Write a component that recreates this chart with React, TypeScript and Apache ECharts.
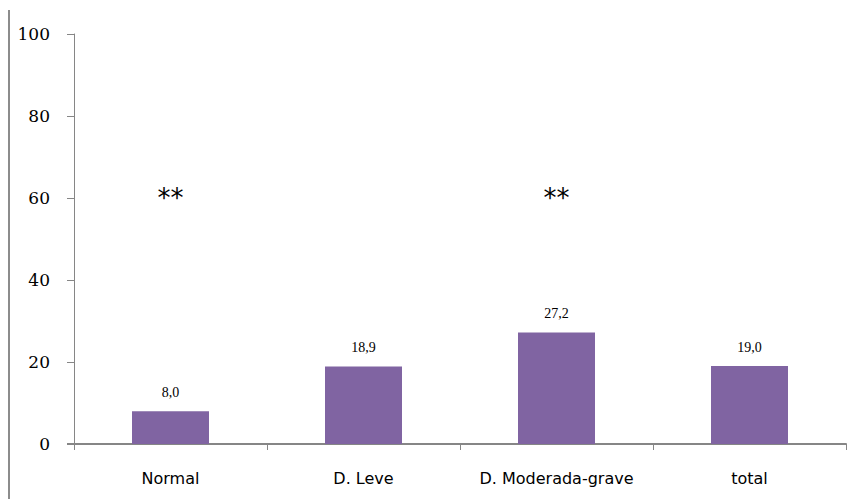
import React, { useEffect, useRef } from "react";
import * as echarts from "echarts";

const categories = ["Normal", "D. Leve", "D. Moderada-grave", "total"];
const values = [8.0, 18.9, 27.2, 19.0];
const annotationCats = ["Normal", "D. Moderada-grave"];
const annotationLevel = [60, 60];
const annotationText = "**";

export default function App() {
  const ref = useRef<HTMLDivElement>(null);
  useEffect(() => {
    if (!ref.current) return;
    const chart = echarts.init(ref.current, null, { renderer: "svg" });
    const axisColor = "#868686";
    chart.setOption({
      animation: false,
      backgroundColor: "#ffffff",
      grid: { left: 74, right: 10, top: 34, bottom: 55, outerBoundsMode: "none" },
      xAxis: {
        type: "category",
        data: categories,
        axisLine: { lineStyle: { color: axisColor, width: 2 } },
        axisTick: { show: true, length: 6, lineStyle: { color: axisColor, width: 1 } },
        axisLabel: {
          color: "#000",
          fontFamily: "DejaVu Sans",
          fontSize: 16,
          margin: 26,
          interval: 0,
          hideOverlap: false,
        },
      },
      yAxis: {
        type: "value",
        min: 0,
        max: 100,
        interval: 20,
        splitLine: { show: false },
        axisLine: { show: true, lineStyle: { color: axisColor, width: 1 } },
        axisTick: { show: true, length: 7, lineStyle: { color: axisColor } },
        axisLabel: {
          color: "#000",
          fontFamily: "DejaVu Serif",
          fontSize: 17,
          margin: 24,
          formatter: (v: number) => String(v),
        },
      },
      series: [
        {
          type: "bar",
          data: values,
          barWidth: 77,
          itemStyle: { color: "#8064A2" },
          label: {
            show: true,
            position: "top",
            distance: 12,
            color: "#000",
            fontFamily: "Liberation Serif",
            fontSize: 14,
            formatter: (p: any) => p.value.toFixed(1).replace(".", ","),
          },
          markPoint: {
            symbol: "circle",
            symbolSize: 1,
            itemStyle: { color: "rgba(0,0,0,0)" },
            label: {
              show: true,
              position: "inside",
              formatter: annotationText,
              color: "#000",
              fontFamily: "DejaVu Sans",
              fontSize: 26,
            },
            data: annotationCats.map((c, i) => ({ coord: [c, annotationLevel[i]] })),
          },
        },
      ],
      graphic: [
        {
          type: "line",
          shape: { x1: 9, y1: 10, x2: 9, y2: 499 },
          style: { stroke: "#8c8c8c", lineWidth: 2 },
        },
        {
          type: "line",
          shape: { x1: 67, y1: 444, x2: 74, y2: 444 },
          style: { stroke: axisColor, lineWidth: 2 },
        },
      ],
    });
    return () => chart.dispose();
  }, []);
  return (
    <div
      ref={ref}
      style={{ position: "fixed", left: 0, top: 0, width: 856, height: 499 }}
    />
  );
}
